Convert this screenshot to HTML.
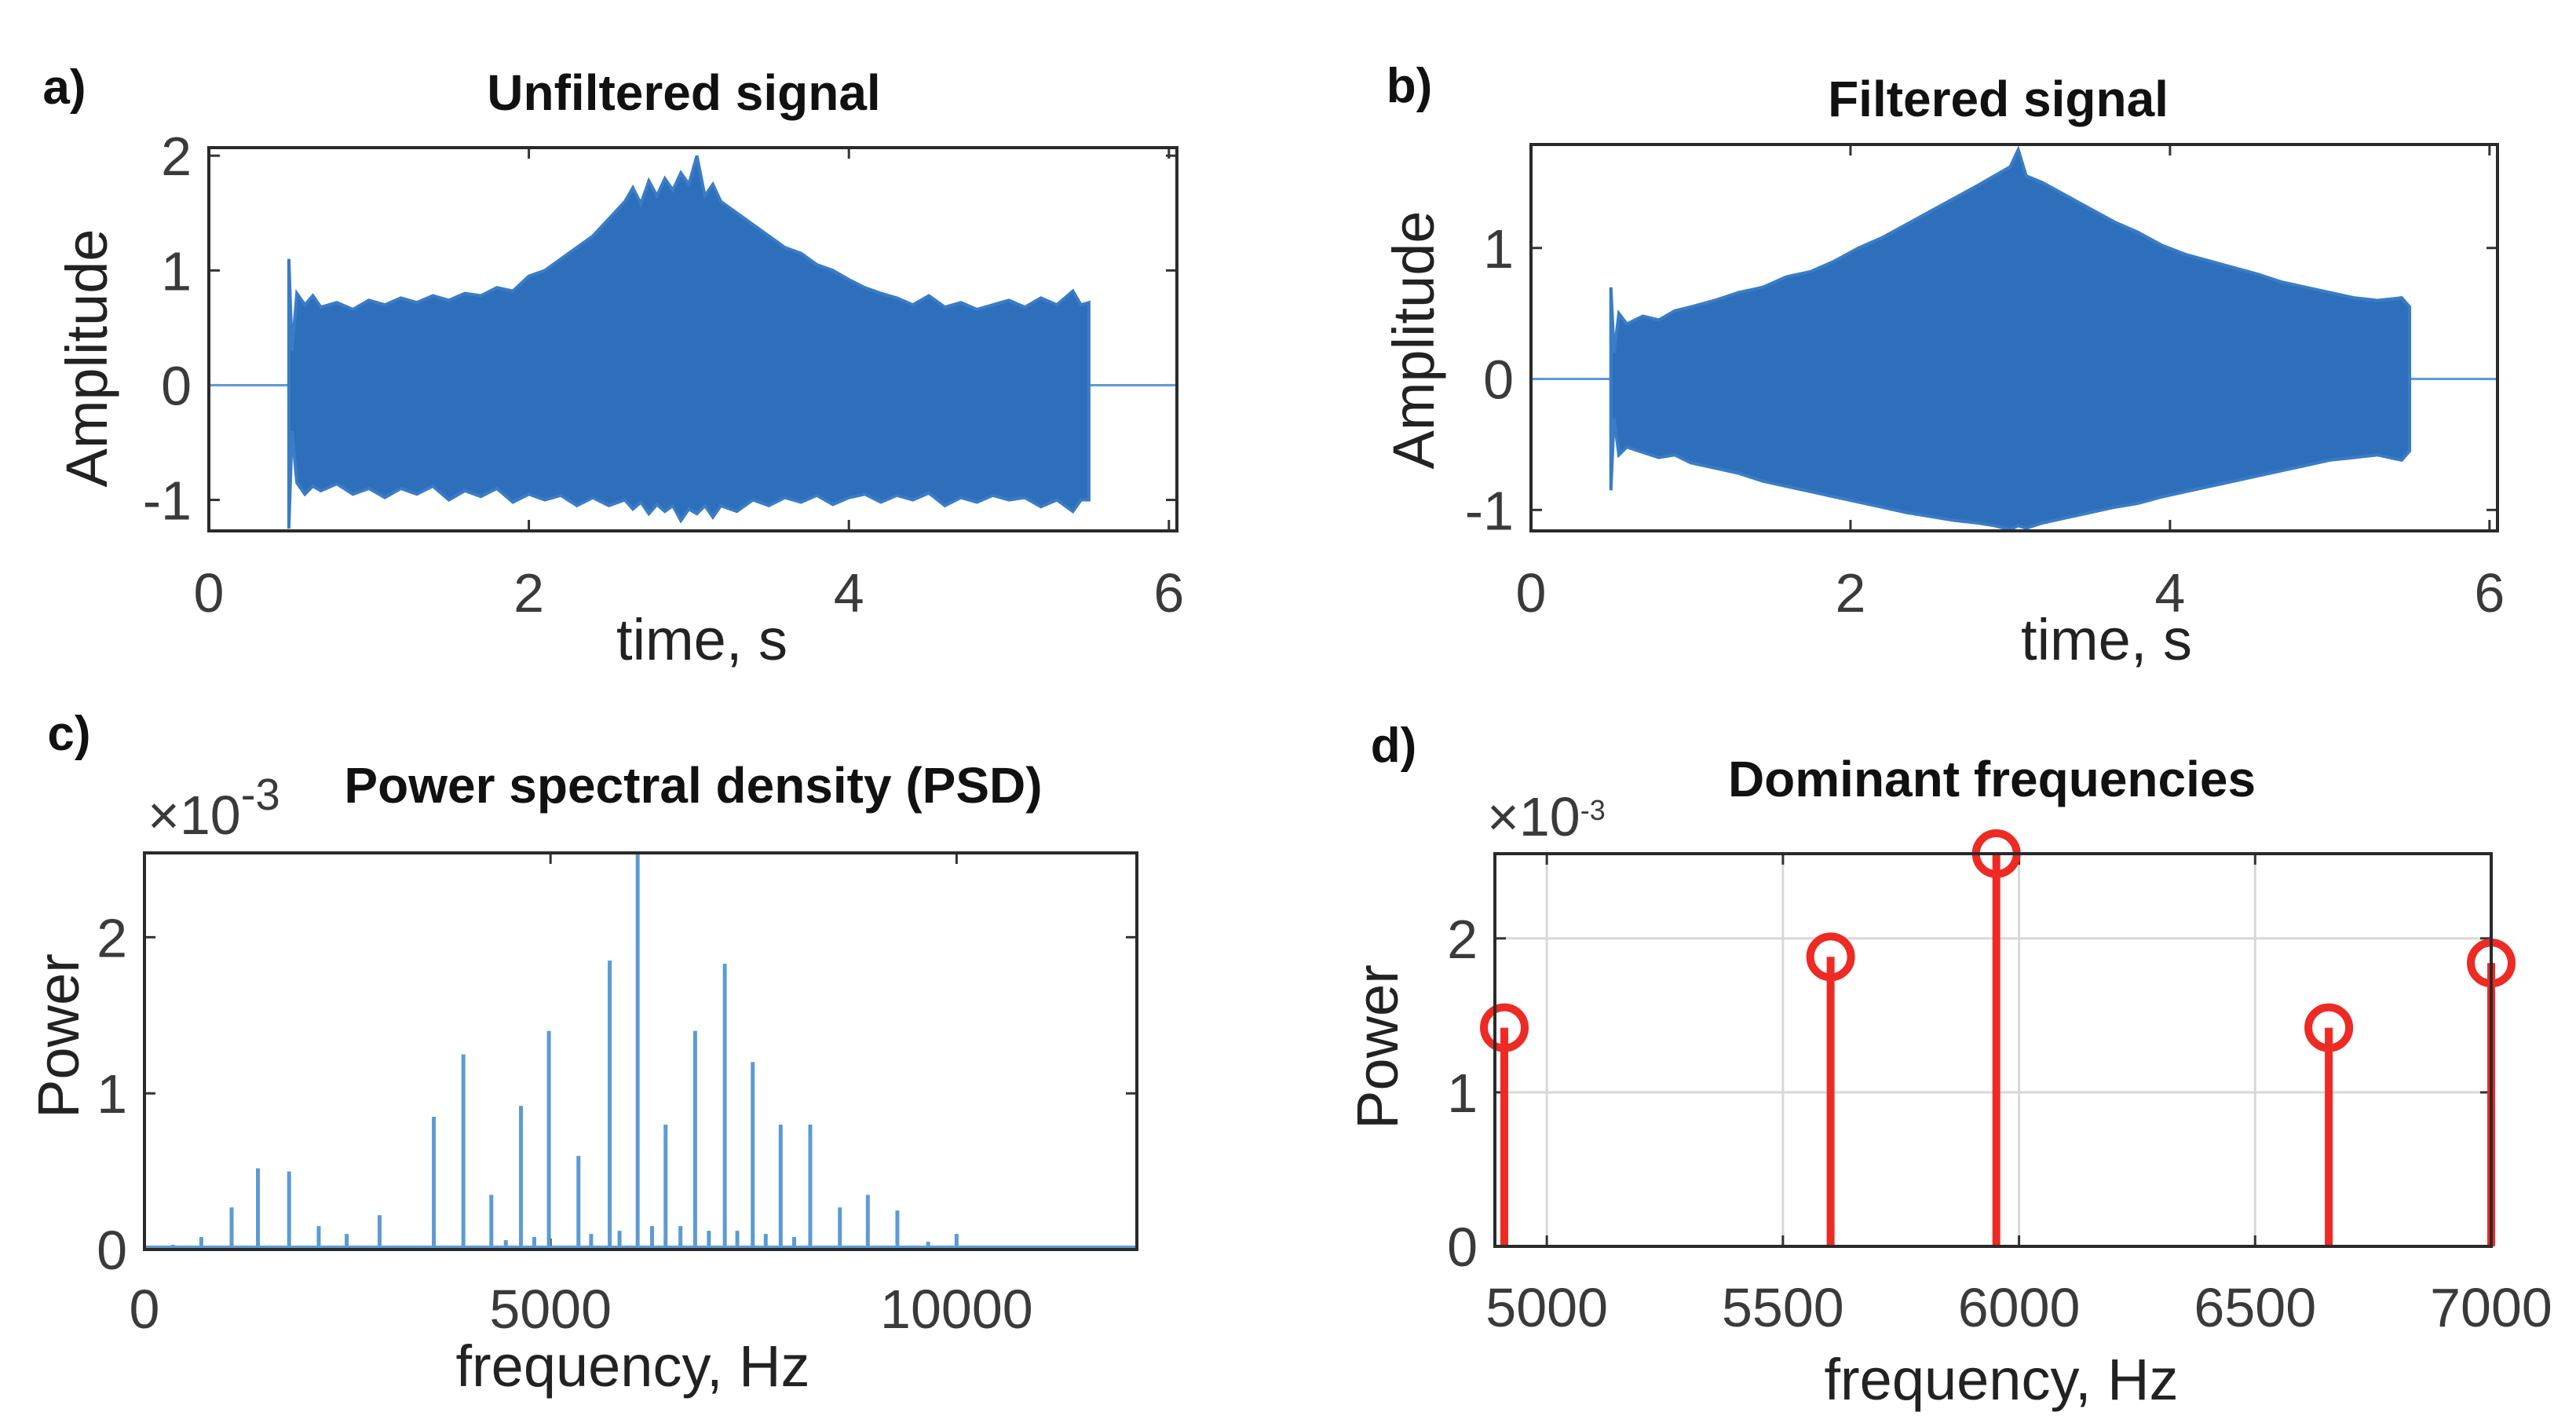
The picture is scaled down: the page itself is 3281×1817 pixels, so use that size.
<!DOCTYPE html>
<html><head><meta charset="utf-8"><style>
html,body{margin:0;padding:0;background:#fff;}
svg{display:block;font-family:"Liberation Sans",sans-serif;}
.tick{font-size:70px;fill:#3a3a3a;}
.ttl{font-size:64px;font-weight:bold;fill:#111;}
.lab{font-size:74px;fill:#222;}
.pl{font-size:62px;font-weight:bold;fill:#111;}
</style></head><body>
<svg id="fig" width="3281" height="1817" viewBox="0 0 3281 1817" xmlns="http://www.w3.org/2000/svg"></svg>
<script>
// Panel a: unfiltered signal envelope
const aTimes=[0.5,0.52,0.55,0.6,0.65,0.7,0.8,0.9,1.0,1.1,1.2,1.3,1.4,1.5,1.6,1.7,1.8,1.9,2.0,2.1,2.2,2.3,2.4,2.5,2.6,2.65,2.7,2.75,2.8,2.85,2.9,2.95,3.0,3.05,3.1,3.15,3.2,3.3,3.4,3.5,3.6,3.7,3.8,3.9,4.0,4.1,4.2,4.3,4.4,4.5,4.6,4.7,4.8,4.9,5.0,5.1,5.2,5.3,5.4,5.45,5.5];
const aUpper=[1.1,0.3,0.8,0.7,0.78,0.68,0.72,0.66,0.74,0.7,0.76,0.72,0.78,0.74,0.8,0.78,0.85,0.82,0.95,1.0,1.1,1.2,1.3,1.45,1.6,1.72,1.58,1.78,1.65,1.8,1.7,1.85,1.75,2.0,1.65,1.75,1.6,1.5,1.4,1.3,1.2,1.15,1.05,1.0,0.92,0.85,0.8,0.76,0.7,0.78,0.68,0.72,0.66,0.7,0.74,0.68,0.76,0.7,0.82,0.7,0.72];
const aLower=[-1.25,-0.4,-0.85,-0.95,-0.88,-0.92,-0.86,-0.95,-0.9,-0.98,-0.9,-0.95,-0.88,-1.0,-0.92,-0.97,-0.9,-1.02,-0.95,-1.0,-0.96,-1.05,-0.98,-1.05,-1.0,-1.08,-1.02,-1.12,-1.04,-1.1,-1.05,-1.18,-1.08,-1.12,-1.05,-1.15,-1.05,-1.1,-1.0,-1.05,-0.98,-1.02,-0.96,-1.04,-0.98,-0.95,-1.02,-0.96,-1.0,-0.94,-1.05,-0.98,-1.02,-0.96,-1.0,-0.98,-1.06,-1.0,-1.1,-1.0,-1.0];
// Panel b: filtered signal envelope
const bTimes=[0.5,0.52,0.55,0.6,0.7,0.8,0.9,1.0,1.15,1.3,1.45,1.6,1.75,1.9,2.05,2.2,2.35,2.5,2.65,2.8,2.9,3.0,3.05,3.1,3.2,3.35,3.5,3.65,3.8,3.95,4.1,4.25,4.4,4.55,4.7,4.85,5.0,5.15,5.3,5.45,5.5];
const bUpper=[0.7,0.2,0.5,0.42,0.48,0.45,0.52,0.55,0.6,0.66,0.7,0.78,0.82,0.9,1.0,1.08,1.18,1.28,1.38,1.48,1.55,1.62,1.75,1.55,1.5,1.4,1.3,1.2,1.12,1.02,0.95,0.9,0.85,0.8,0.74,0.7,0.66,0.62,0.6,0.62,0.55];
const bLower=[-0.85,-0.3,-0.58,-0.52,-0.56,-0.6,-0.58,-0.64,-0.68,-0.72,-0.78,-0.82,-0.86,-0.9,-0.94,-0.98,-1.02,-1.05,-1.08,-1.1,-1.12,-1.15,-1.12,-1.14,-1.1,-1.06,-1.02,-0.98,-0.95,-0.9,-0.86,-0.82,-0.78,-0.74,-0.7,-0.66,-0.62,-0.6,-0.58,-0.62,-0.55];
// Panel c: PSD peaks
const psdFreq=[350,700,1073,1397,1781,2146,2490,2895,3563,3927,4271,4636,4980,5344,5729,6073,6417,6781,7146,7490,7834,8198,8563,8907,9271,9650,10000,5500,5850,6250,6600,6950,7300,7650,8000,4450,4800];
const psdPower=[0.03,0.08,0.27,0.52,0.5,0.15,0.1,0.22,0.85,1.25,0.35,0.92,1.4,0.6,1.85,2.55,0.8,1.4,1.83,1.2,0.8,0.8,0.27,0.35,0.25,0.05,0.1,0.1,0.12,0.15,0.15,0.12,0.12,0.1,0.08,0.06,0.08];
const psdYTicks=[0,1,2];const psdXTicks=[0,5000,10000];
// Panel d: dominant frequencies
const domFreq=[4910,5601,5952,6656,7000];
const domPower=[1.42,1.88,2.55,1.42,1.84];
const domXTicks=[5000,5500,6000,6500,7000];const domYTicks=[0,1,2];

const NS="http://www.w3.org/2000/svg";const svg=document.getElementById('fig');
function mk(t,a,p){const e=document.createElementNS(NS,t);for(const k in a)e.setAttribute(k,a[k]);(p||svg).appendChild(e);return e;}
function txt(s,a,p){const e=mk('text',a,p);e.textContent=s;return e;}
function scale(d0,d1,r0,r1){return v=>r0+(v-d0)/(d1-d0)*(r1-r0);}

function axes(name,L,R,T,B,xs,ys,xt,yt,xl,yl,grid,xtY){
  const g=mk('g',{});
  
  
  if(grid){xt.forEach(v=>{const l=mk('line',{x1:xs(v),x2:xs(v),y1:T,y2:B,stroke:'#d8d8d8','stroke-width':3},g);});
    yt.forEach(v=>{const l=mk('line',{x1:L,x2:R,y1:ys(v),y2:ys(v),stroke:'#d8d8d8','stroke-width':3},g);});}
  xt.forEach((v,i)=>{mk('line',{x1:xs(v),x2:xs(v),y1:B,y2:B-14,stroke:'#333','stroke-width':3},g);mk('line',{x1:xs(v),x2:xs(v),y1:T,y2:T+14,stroke:'#333','stroke-width':3},g);
    const t=txt(xl[i],{x:xs(v),y:xtY,'text-anchor':'middle',class:'tick'},g);});
  yt.forEach((v,i)=>{mk('line',{x1:L,x2:L+14,y1:ys(v),y2:ys(v),stroke:'#333','stroke-width':3},g);mk('line',{x1:R,x2:R-14,y1:ys(v),y2:ys(v),stroke:'#333','stroke-width':3},g);
    const t=txt(yl[i],{x:L-22,y:ys(v)+25,'text-anchor':'end',class:'tick'},g);});
  return g;
}
function frame(L,R,T,B){const r=mk('rect',{x:L,y:T,width:R-L,height:B-T,fill:'none',stroke:'#2a2a2a','stroke-width':4});}
function label(s,x,y,cls,name,rot){const a={x:x,y:y,'text-anchor':'middle',class:cls};if(rot)a.transform='rotate(-90 '+x+' '+y+')';const t=txt(s,a);}
function expo(x,y,fs,name){const t=mk('text',{x:x,y:y,class:'tick','font-size':fs});
  const a=mk('tspan',{},t);a.textContent='×10';const b=mk('tspan',{dy:-fs*0.4,'font-size':fs*0.72},t);b.textContent='-3';}

function signal(name,L,R,T,B,y0,y1,times,up,lo){
  const xs=scale(0,6.05,L,R),ys=scale(y0,y1,B,T);
  axes(name+'-axes',L,R,T,B,xs,ys,[0,2,4,6],name==='a'?[-1,0,1,2]:[-1,0,1],['0','2','4','6'],name==='a'?['-1','0','1','2']:['-1','0','1'],false,779);
  const base=mk('line',{x1:L,x2:R,y1:ys(0),y2:ys(0),stroke:'#5b9bd5','stroke-width':3});
  
  let pts=times.map((t,i)=>xs(t)+','+ys(up[i]));
  for(let i=times.length-1;i>=0;i--)pts.push(xs(times[i])+','+ys(lo[i]));
  const p=mk('polygon',{points:pts.join(' '),fill:'#2e6fbb',stroke:'#3a7cc6','stroke-width':4,'stroke-linejoin':'miter'});
  
  frame(L,R,T,B);
}
signal('a',266,1499,188,676,-1.27,2.07,aTimes,aUpper,aLower);
signal('b',1950,3181,184,676,-1.16,1.79,bTimes,bUpper,bLower);

// panel c
(function(){const L=184,R=1448,T=1086,B=1591;const xs=scale(0,12220,L,R),ys=scale(0,2.54,B,T);
  axes('c-axes',L,R,T,B,xs,ys,psdXTicks,psdYTicks,psdXTicks.map(String),psdYTicks.map(String),false,1691);
  mk('line',{x1:L,x2:R,y1:B-3,y2:B-3,stroke:'#5b9bd5','stroke-width':4});
  psdFreq.forEach((f,i)=>{const l=mk('line',{x1:xs(f),x2:xs(f),y1:ys(0),y2:ys(psdPower[i]),stroke:'#5b9bd5','stroke-width':5});
    });
  frame(L,R,T,B);
  expo(188,1062,78,'y-exponent-c');
})();
// panel d
(function(){const L=1904,R=3173,T=1087,B=1587;const xs=scale(4890,7000,L,R),ys=scale(0,2.55,B,T);
  axes('d-axes',L,R,T,B,xs,ys,domXTicks,domYTicks,domXTicks.map(String),domYTicks.map(String),true,1689);
  domFreq.forEach((f,i)=>{const l=mk('line',{x1:xs(f),x2:xs(f),y1:ys(0),y2:ys(domPower[i]),stroke:'#ee2a24','stroke-width':10});
    
    const c=mk('circle',{cx:xs(f),cy:ys(domPower[i]),r:26,fill:'none',stroke:'#ee2a24','stroke-width':10});
    });
  frame(L,R,T,B);
  expo(1894,1064,50,'y-exponent-d');
})();

label('a)',82,132,'pl','panel-label-a');label('b)',1795,130,'pl','panel-label-b');
label('c)',88,955,'pl','panel-label-c');label('d)',1775,970,'pl','panel-label-d');
label('Unfiltered signal',871,140,'ttl','title-a');label('Filtered signal',2545,148,'ttl','title-b');
label('Power spectral density (PSD)',883,1022,'ttl','title-c');label('Dominant frequencies',2537,1014,'ttl','title-d');
label('time, s',894,840,'lab','x-axis-title-a');label('time, s',2683,840,'lab','x-axis-title-b');
label('frequency, Hz',806,1765,'lab','x-axis-title-c');label('frequency, Hz',2549,1782,'lab','x-axis-title-d');
label('Amplitude',136,456,'lab','y-axis-title-a',true);label('Amplitude',1826,433,'lab','y-axis-title-b',true);
label('Power',100,1319,'lab','y-axis-title-c',true);label('Power',1780,1333,'lab','y-axis-title-d',true);
</script>
</body></html>
